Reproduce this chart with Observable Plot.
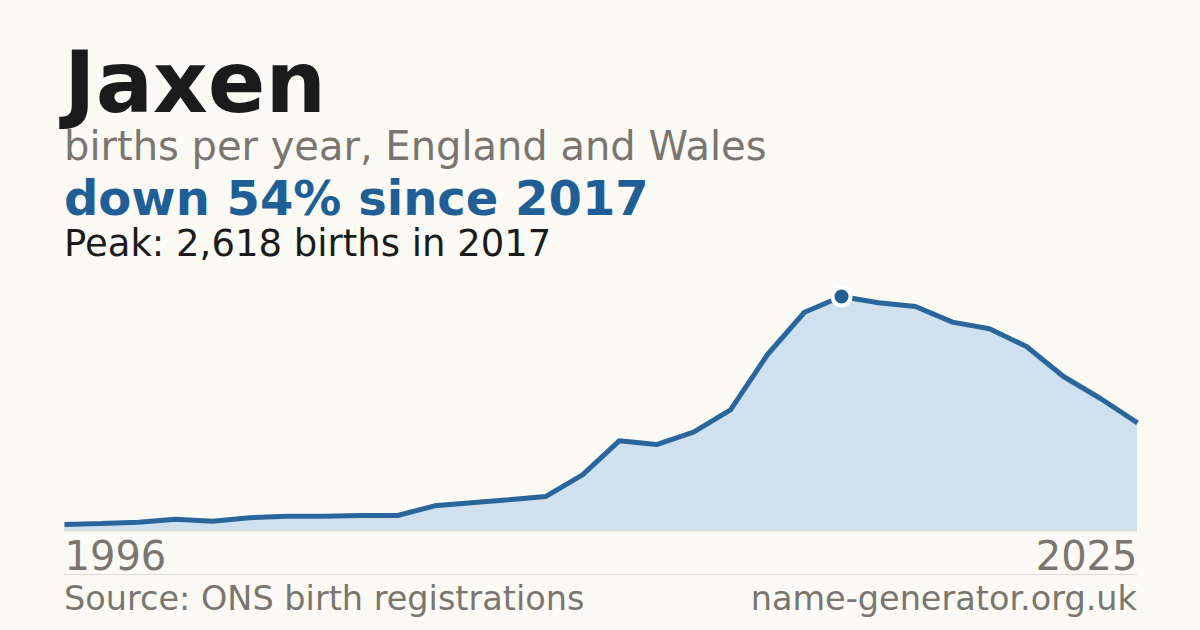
<!DOCTYPE html>
<html>
<head>
<meta charset="utf-8">
<script src="https://cdn.jsdelivr.net/npm/d3@7"></script>
<script src="https://cdn.jsdelivr.net/npm/@observablehq/plot@0.6"></script>
<style>
  html, body { margin: 0; padding: 0; background: #fbfaf5; }
  #wrap { position: relative; width: 1200px; height: 630px; overflow: hidden; background: #fbfaf5; font-family: "DejaVu Sans", sans-serif; }
  .t { position: absolute; left: 64px; line-height: 1; white-space: nowrap; }
  #title { top: 43px; font-size: 85px; line-height: 0.95; font-weight: bold; color: #1b1b1b; }
  #sub { top: 126px; font-size: 40px; color: #7a766f; }
  #change { top: 174px; font-size: 48px; font-weight: bold; color: #1f5f96; }
  #peak { top: 225px; font-size: 37px; color: #1b1b1b; }
  #chart { position: absolute; left: 0; top: 270px; }
  #sep { position: absolute; left: 64px; width: 1073px; top: 574px; height: 1px; background: #dcd9d3; }
  .foot { position: absolute; top: 582px; font-size: 33.5px; color: #7a766f; line-height: 1; white-space: nowrap; }
  #src { left: 64px; }
  #site { right: 63px; }
</style>
</head>
<body>
<div id="wrap">
  <div id="title" class="t">Jaxen</div>
  <div id="sub" class="t">births per year, England and Wales</div>
  <div id="change" class="t">down 54% since 2017</div>
  <div id="peak" class="t">Peak: 2,618 births in 2017</div>
  <div id="chart"></div>
  <div id="sep"></div>
  <div id="src" class="foot">Source: ONS birth registrations</div>
  <div id="site" class="foot">name-generator.org.uk</div>
</div>
<script>
const years = [1996,1997,1998,1999,2000,2001,2002,2003,2004,2005,2006,2007,2008,2009,2010,2011,2012,2013,2014,2015,2016,2017,2018,2019,2020,2021,2022,2023,2024,2025];
const births = [67,78,92,127,104,142,160,160,168,168,276,310,343,380,623,1005,962,1100,1350,1969,2442,2618,2548,2506,2331,2257,2059,1723,1477,1204];
const peakYear = 2017;
const peakBirths = 2618;
const firstYearLabel = "1996";
const lastYearLabel = "2025";

const data = years.map((y, i) => ({year: y, births: births[i]}));
const blue = "#1f5f96";

const chart = Plot.plot({
  width: 1200,
  height: 310,
  marginLeft: 64,
  marginRight: 63,
  marginTop: 26,
  marginBottom: 50,
  style: {background: "transparent", fontFamily: "DejaVu Sans, sans-serif", overflow: "visible"},
  x: {domain: [years[0], years[years.length - 1]], axis: null},
  y: {domain: [0, peakBirths], axis: null},
  marks: [
    Plot.areaY(data, {x: "year", y: "births", fill: "#cfe0ef"}),
    Plot.ruleY([0], {stroke: "#dcd9d3", strokeWidth: 1.5}),
    Plot.line(data, {x: "year", y: "births", stroke: "#2a669b", strokeWidth: 5, strokeLinecap: "butt", strokeLinejoin: "miter"}),
    Plot.dot([{year: peakYear, births: peakBirths}], {x: "year", y: "births", r: 9, fill: blue, stroke: "#ffffff", strokeWidth: 4}),
    Plot.text([{year: years[0], label: firstYearLabel}], {x: "year", y: 0, text: "label", textAnchor: "start", lineAnchor: "bottom", dy: 39, fontSize: 40, fill: "#7a766f"}),
    Plot.text([{year: years[years.length - 1], label: lastYearLabel}], {x: "year", y: 0, text: "label", textAnchor: "end", lineAnchor: "bottom", dy: 39, fontSize: 40, fill: "#7a766f"})
  ]
});
document.getElementById("chart").appendChild(chart);
</script>
</body>
</html>
